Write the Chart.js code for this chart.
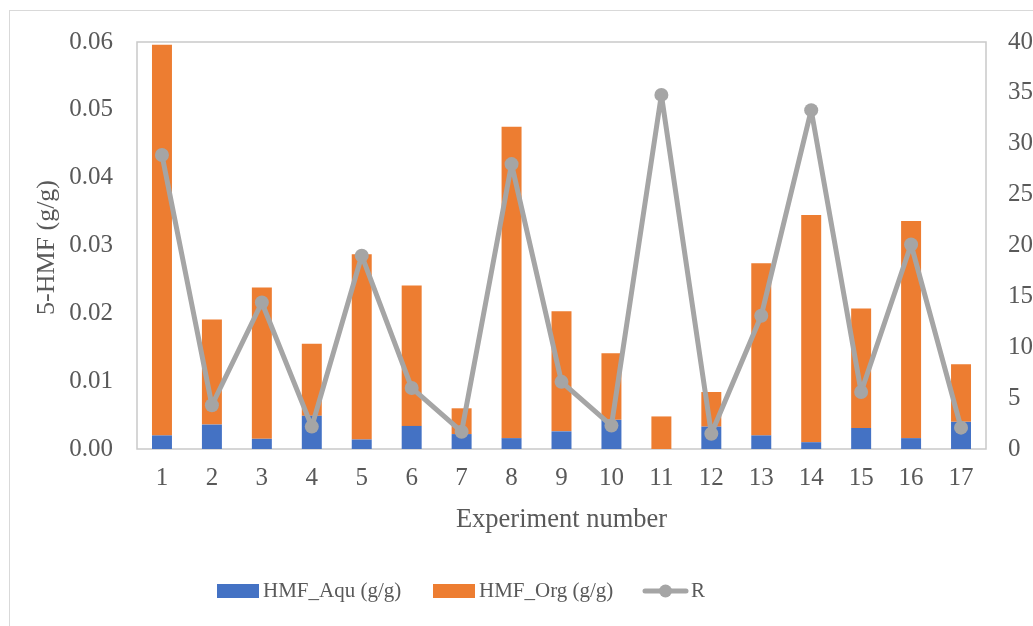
<!DOCTYPE html>
<html>
<head>
<meta charset="utf-8">
<script src="https://cdn.jsdelivr.net/npm/chart.js@4/dist/chart.umd.min.js"></script>
<style>
  html, body { margin: 0; padding: 0; background: #fff; }
  #wrap { width: 1033px; height: 626px; position: relative; }
</style>
</head>
<body>
<div id="wrap"><canvas id="chart" width="1033" height="626"></canvas></div>
<script>
// experiment numbers along the x axis
const experiments = ['1','2','3','4','5','6','7','8','9','10','11','12','13','14','15','16','17'];
// 5-HMF in the aqueous phase (g/g)
const hmfAqu = [0.0020, 0.0036, 0.0015, 0.0049, 0.0014, 0.0034, 0.0022, 0.0016, 0.0026, 0.0043, 0.0000, 0.0033, 0.0020, 0.0010, 0.0031, 0.0016, 0.0040];
// 5-HMF in the organic phase (g/g)
const hmfOrg = [0.0576, 0.0155, 0.0223, 0.0106, 0.0273, 0.0207, 0.0038, 0.0459, 0.0177, 0.0098, 0.0048, 0.0051, 0.0254, 0.0335, 0.0176, 0.0320, 0.0085];
// partition ratio R (right axis)
const ratioR = [28.9, 4.3, 14.4, 2.2, 19.0, 6.0, 1.7, 28.0, 6.6, 2.3, 34.8, 1.5, 13.1, 33.3, 5.6, 20.1, 2.1];

const BLUE = '#4472C4';
const ORANGE = '#ED7D31';
const GREY = '#A5A5A5';
const TEXT = '#595959';
const SERIF = '"Liberation Serif", "Times New Roman", serif';

// frame round the whole chart and round the plot area
const framePlugin = {
    id: 'frame',
    beforeDraw(chart) {
        const ctx = chart.ctx;
        ctx.save();
        ctx.strokeStyle = '#D9D9D9';
        ctx.lineWidth = 1;
        ctx.strokeRect(9.5, 10.5, 1200, 800);
        ctx.restore();
    },
    beforeDatasetsDraw(chart) {
        const { ctx, chartArea: a } = chart;
        ctx.save();
        ctx.strokeStyle = '#C9C9C9';
        ctx.lineWidth = 1.5;
        ctx.strokeRect(a.left, a.top, a.right - a.left, a.bottom - a.top);
        ctx.restore();
    }
};

// rotated title of the left axis, centred on the plot area
const yTitlePlugin = {
    id: 'yTitle',
    afterDraw(chart) {
        const { ctx, chartArea: a } = chart;
        ctx.save();
        ctx.font = '26px ' + SERIF;
        ctx.fillStyle = TEXT;
        ctx.textAlign = 'center';
        ctx.textBaseline = 'middle';
        ctx.translate(47, (a.top + a.bottom) / 2 + 2);
        ctx.rotate(-Math.PI / 2);
        ctx.fillText('5-HMF (g/g)', 0, 0);
        ctx.restore();
    }
};

// Excel-style legend under the chart
const legendPlugin = {
    id: 'excelLegend',
    afterDraw(chart) {
        const ctx = chart.ctx;
        const y = 591;
        ctx.save();
        ctx.font = '21px ' + SERIF;
        ctx.textBaseline = 'middle';

        ctx.fillStyle = BLUE;
        ctx.fillRect(217, y - 7, 42, 14);
        ctx.fillStyle = TEXT;
        ctx.fillText(chart.data.datasets[1].label, 263, y);

        ctx.fillStyle = ORANGE;
        ctx.fillRect(433, y - 7, 42, 14);
        ctx.fillStyle = TEXT;
        ctx.fillText(chart.data.datasets[2].label, 479, y);

        ctx.strokeStyle = GREY;
        ctx.lineWidth = 5;
        ctx.lineCap = 'round';
        ctx.beginPath();
        ctx.moveTo(645, y);
        ctx.lineTo(686, y);
        ctx.stroke();
        ctx.fillStyle = GREY;
        ctx.beginPath();
        ctx.arc(665.5, y, 6.5, 0, Math.PI * 2);
        ctx.fill();
        ctx.fillStyle = TEXT;
        ctx.fillText(chart.data.datasets[0].label, 691, y);
        ctx.restore();
    }
};

new Chart(document.getElementById('chart').getContext('2d'), {
    type: 'bar',
    data: {
        labels: experiments,
        datasets: [
            {
                type: 'line',
                label: 'R',
                data: ratioR,
                yAxisID: 'y1',
                order: 0,
                borderColor: GREY,
                backgroundColor: GREY,
                borderWidth: 5,
                borderJoinStyle: 'round',
                borderCapStyle: 'round',
                pointRadius: 7,
                pointBackgroundColor: GREY,
                pointBorderWidth: 0,
                tension: 0
            },
            {
                label: 'HMF_Aqu (g/g)',
                data: hmfAqu,
                yAxisID: 'y',
                order: 1,
                backgroundColor: BLUE,
                categoryPercentage: 1,
                barPercentage: 0.4
            },
            {
                label: 'HMF_Org (g/g)',
                data: hmfOrg,
                yAxisID: 'y',
                order: 1,
                backgroundColor: ORANGE,
                categoryPercentage: 1,
                barPercentage: 0.4
            }
        ]
    },
    options: {
        responsive: false,
        animation: false,
        layout: { padding: { left: 0, right: 0, top: 42, bottom: 82 } },
        plugins: {
            legend: { display: false },
            tooltip: { enabled: false }
        },
        scales: {
            x: {
                stacked: true,
                grid: { display: false, drawTicks: false },
                border: { display: false },
                ticks: { color: TEXT, font: { family: SERIF, size: 25 }, padding: 14, maxRotation: 0 },
                title: { display: true, text: 'Experiment number', color: TEXT, font: { family: SERIF, size: 26.5 }, padding: { top: 0, bottom: 8 } },
                afterFit(scale) { scale.height = 95; }
            },
            y: {
                stacked: true,
                position: 'left',
                min: 0,
                max: 0.06,
                grid: { display: false, drawTicks: false },
                border: { display: false },
                ticks: {
                    stepSize: 0.01,
                    color: TEXT,
                    font: { family: SERIF, size: 25 },
                    padding: 24,
                    callback: v => Number(v).toFixed(2)
                },
                afterFit(scale) { scale.width = 137; }
            },
            y1: {
                position: 'right',
                min: 0,
                max: 40,
                grid: { display: false, drawTicks: false },
                border: { display: false },
                ticks: { stepSize: 5, color: TEXT, font: { family: SERIF, size: 25 }, padding: 22 },
                afterFit(scale) { scale.width = 47; }
            }
        }
    },
    plugins: [framePlugin, yTitlePlugin, legendPlugin]
});
</script>
</body>
</html>
